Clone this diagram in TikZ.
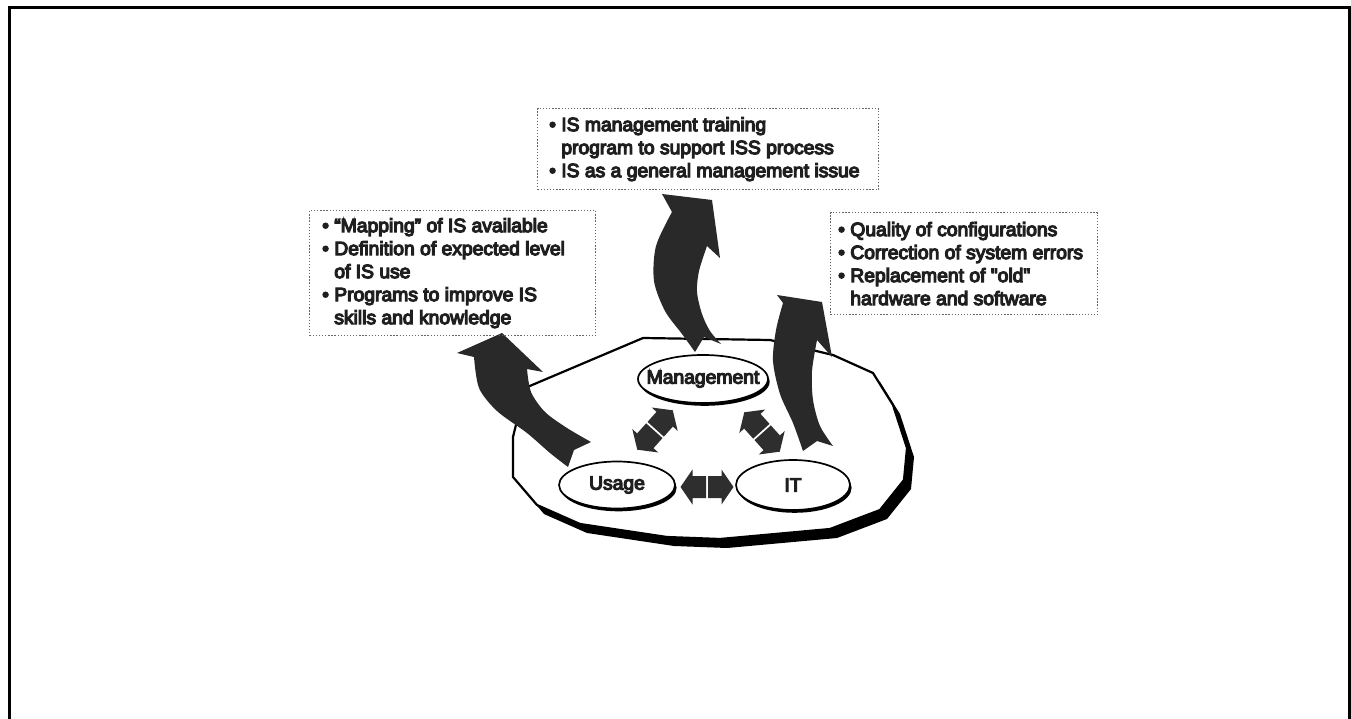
\documentclass[tikz,border=0pt]{standalone}
\usepackage{fontspec}
\setmainfont{Liberation Sans}[Ligatures=ResetAll]
\newfontfamily\heavysans{Liberation Sans}[Ligatures=ResetAll, FakeBold=6]
\usetikzlibrary{shapes.geometric,calc,shadows}

\tikzset{
  lbl/.style={font=\heavysans\fontsize{19.3}{23}\selectfont, text=black!88},
  infobox/.style={draw=black!60, line width=1.3pt, dash pattern=on 1.3pt off 1.8pt,
    inner sep=0pt, anchor=north west},
  boxtext/.style={lbl, align=left, inner sep=0pt, anchor=west},
  stage/.style={ellipse, draw, line width=1.7pt, fill=white, inner sep=0pt,
    lbl, drop shadow={shadow xshift=1.6pt, shadow yshift=-2.8pt, fill=black, opacity=1}},
  bigarrow/.style={fill=black!84},
  platform/.style={draw, line width=2.2pt, line join=round, fill=white,
    drop shadow={shadow xshift=7pt, shadow yshift=-9pt, fill=black, opacity=1}},
  pics/dblblock/.style={code={
    \fill[black!82] (1,-11) -- (14.5,-11) -- (14.5,-17.5) -- (26.5,0) -- (14.5,17.5) -- (14.5,11) -- (1,11) -- cycle;
    \fill[black!82] (-1,-11) -- (-14.5,-11) -- (-14.5,-17.5) -- (-26.5,0) -- (-14.5,17.5) -- (-14.5,11) -- (-1,11) -- cycle;
  }}
}

\begin{document}
\begin{tikzpicture}[x=1pt,y=-1pt]
\useasboundingbox (0,0) rectangle (1351,719);

% page frame, open at the bottom
\draw[line width=3pt] (9.5,725) -- (9.5,7.5) -- (1349.5,7.5) -- (1349.5,725);

% the platform the three areas stand on
\path[platform] (525,388) -- (643,338) -- (770,340) -- (833,355) -- (873,373)
  -- (893,405) -- (907,448) -- (904,480) -- (880,510) -- (830,529) -- (720,539)
  -- (667,537) -- (580,524) -- (537,505) -- (513,477) -- (513,437) -- cycle;

% curved arrows rising to the action boxes
\fill[bigarrow] plot[smooth] coordinates {(568,467) (550,453) (527,433) (497,411) (479,388) (474,357)}
  -- (457,353) -- (502,333) -- (543,372) -- (527,369)
  -- plot[smooth] coordinates {(527,369) (531,392) (545,412) (567,428) (591,442)}
  -- (574,450) -- cycle;
\fill[bigarrow] plot[smooth] coordinates {(695,352) (682,334) (665,311) (654,281) (656,246) (672,212)}
  -- (662,194) -- (712,200) -- (720,258) -- (707,246)
  -- plot[smooth] coordinates {(707,246) (699,271) (697,292) (702,314) (710,331) (721,344)}
  -- (704,337) -- cycle;
\fill[bigarrow] plot[smooth] coordinates {(803,451) (793,423) (780,394) (773,361) (776,330) (783,303)}
  -- (777,295) -- (822,302) -- (832,357) -- (817,340)
  -- plot[smooth] coordinates {(817,340) (812,371) (813,400) (820,426) (833,446)}
  -- (817,441) -- cycle;

% the three areas
\node[stage, minimum width=130, minimum height=48] (mgmt) at (703,379) {\makebox[0pt]{Management}};
\node[stage, minimum width=116, minimum height=47] (usage) at (617,485) {\makebox[0pt]{Usage}};
\node[stage, minimum width=114, minimum height=50] (it) at (793,485) {\makebox[0pt]{IT}};

% two-way links between the areas
\pic at ($(usage)!0.5!(it)+(2,2)$) {dblblock};
\pic[rotate=48] at ($(usage)!0.5!(mgmt)+(-5,-2)$) {dblblock};
\pic[rotate=-48] at ($(mgmt)!0.5!(it)+(14,0)$) {dblblock};

% action boxes
\node[infobox, minimum width=341, minimum height=81] (mgmtbox) at (537,108) {};
\node[boxtext] (mgmttext) at ([xshift=12]mgmtbox.west) {%
  • IS management training\\
  \hphantom{• }program to support ISS process\\
  • IS as a general management issue};

\node[infobox, minimum width=286, minimum height=125] (usagebox) at (309,210) {};
\node[boxtext] (usagetext) at ([xshift=13]usagebox.west) {%
  • “Mapping” of IS available\\
  • Definition of expected level\\
  \hphantom{• }of IS use\\
  • Programs to improve IS\\
  \hphantom{• }skills and knowledge};

\node[infobox, minimum width=267, minimum height=102] (itbox) at (830,212) {};
\node[boxtext] (ittext) at ([xshift=8]itbox.west) {%
  • Quality of configurations\\
  • Correction of system errors\\
  • Replacement of "old"\\
  \hphantom{• }hardware and software};
\end{tikzpicture}
\end{document}
